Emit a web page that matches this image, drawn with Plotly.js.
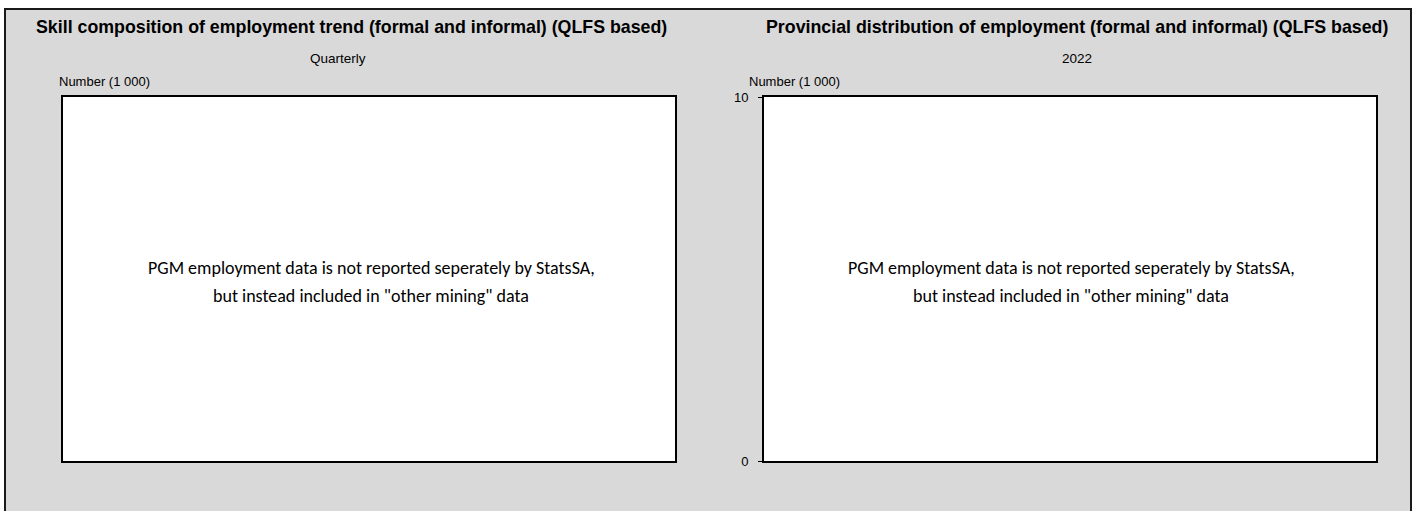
<!DOCTYPE html>
<html>
<head>
<meta charset="utf-8">
<script src="https://cdn.plot.ly/plotly-3.0.1.min.js"></script>
<style>
  html, body { margin: 0; padding: 0; background: #ffffff; }
  #plot { width: 1415px; height: 511px; }
</style>
</head>
<body>
<div id="plot"></div>
<script>
// panel texts
const panelTitles = [
  'Skill composition of employment trend (formal and informal) (QLFS based)',
  'Provincial distribution of employment (formal and informal) (QLFS based)'
];
const panelSubtitles = ['Quarterly', '2022'];
const unitLabel = 'Number (1 000)';
const noteLines = [
  'PGM employment data is not reported seperately by StatsSA,',
  'but instead included in "other mining" data'
];

// the right panel only shows an empty 0..10 value axis
const provYRange = [0, 10];
const provYTicks = [0, 10];

// no series are reported for PGM
const skillQuarters = [];
const skillValues = [];
const provinces = [];
const provValues = [];

const W = 1415, H = 511;
const px = x => x / W;
const py = y => (H - y) / H;

const narrow = '"Liberation Sans Narrow", "Arial Narrow", "Liberation Sans", Arial, sans-serif';
const noteFont = 'Carlito, Calibri, Lato, "Open Sans", sans-serif';

const traces = [
  { x: skillQuarters, y: skillValues, type: 'bar', xaxis: 'x', yaxis: 'y', showlegend: false, hoverinfo: 'skip' },
  { x: provinces, y: provValues, type: 'bar', xaxis: 'x2', yaxis: 'y2', showlegend: false, hoverinfo: 'skip' }
];

const frameAxis = {
  showline: true, mirror: true, linecolor: '#000000', linewidth: 2,
  showgrid: false, zeroline: false, fixedrange: true
};

const plotBoxes = [[63, 675], [764, 1376]];

const layout = {
  width: W, height: H,
  margin: { l: 0, r: 0, t: 0, b: 0 },
  paper_bgcolor: '#ffffff',
  plot_bgcolor: 'rgba(0,0,0,0)',
  showlegend: false,
  xaxis: Object.assign({}, frameAxis, { domain: [px(plotBoxes[0][0]), px(plotBoxes[0][1])], showticklabels: false, ticks: '' }),
  yaxis: Object.assign({}, frameAxis, { domain: [py(461), py(97)], showticklabels: false, ticks: '' }),
  xaxis2: Object.assign({}, frameAxis, { domain: [px(plotBoxes[1][0]), px(plotBoxes[1][1])], anchor: 'y2', showticklabels: false, ticks: '' }),
  yaxis2: Object.assign({}, frameAxis, {
    domain: [py(461), py(97)], anchor: 'x2', range: provYRange,
    tickvals: provYTicks, ticktext: provYTicks.map(String),
    ticks: 'outside', ticklen: 4, tickcolor: '#000000', tickwidth: 1,
    ticklabelstandoff: 7,
    tickfont: { family: narrow, size: 13, color: '#000000' }
  }),
  shapes: [
    {
      type: 'rect', xref: 'paper', yref: 'paper', layer: 'below',
      x0: px(5), x1: px(1411), y0: -0.05, y1: py(9),
      fillcolor: '#d9d9d9', line: { color: '#1a1a1a', width: 2 }
    }
  ],
  annotations: []
};

// white plot areas on top of the grey chart area
plotBoxes.forEach(b => {
  layout.shapes.push({
    type: 'rect', xref: 'paper', yref: 'paper', layer: 'below',
    x0: px(b[0]), x1: px(b[1]), y0: py(461), y1: py(97),
    fillcolor: '#ffffff', line: { width: 0 }
  });
});

const titleX = [351, 1077];
const subX = [338, 1077];
const unitX = [57, 747];
const noteX = [371, 1071];
const noteY = [268, 296];
for (let i = 0; i < 2; i++) {
  layout.annotations.push({
    text: '<b>' + panelTitles[i] + '</b>', xref: 'paper', yref: 'paper',
    x: px(titleX[i]), y: py(27), xanchor: 'center', yanchor: 'middle', showarrow: false,
    font: { family: narrow, size: 17.8, color: '#000000' }
  });
  layout.annotations.push({
    text: panelSubtitles[i], xref: 'paper', yref: 'paper',
    x: px(subX[i]), y: py(58), xanchor: 'center', yanchor: 'middle', showarrow: false,
    font: { family: narrow, size: 13.5, color: '#000000' }
  });
  layout.annotations.push({
    text: unitLabel, xref: 'paper', yref: 'paper',
    x: px(unitX[i]), y: py(81), xanchor: 'left', yanchor: 'middle', showarrow: false,
    font: { family: narrow, size: 13, color: '#000000' }
  });
  noteLines.forEach((line, j) => {
    layout.annotations.push({
      text: line, xref: 'paper', yref: 'paper',
      x: px(noteX[i]), y: py(noteY[j]), xanchor: 'center', yanchor: 'middle', showarrow: false,
      font: { family: noteFont, size: 18, color: '#000000' }
    });
  });
}

Plotly.newPlot('plot', traces, layout, { staticPlot: true, displayModeBar: false });
</script>
</body>
</html>
